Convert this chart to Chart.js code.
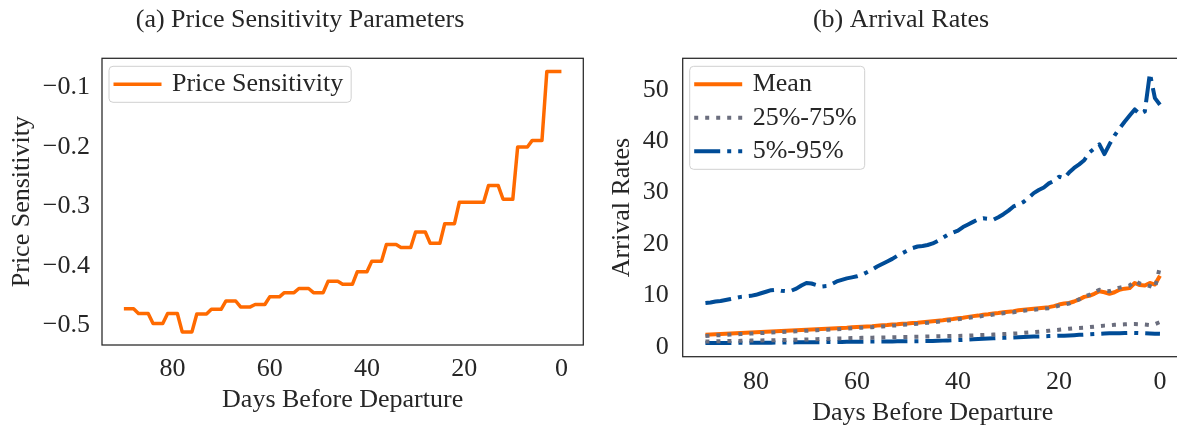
<!DOCTYPE html>
<html>
<head>
<meta charset="utf-8">
<script src="https://cdn.jsdelivr.net/npm/chart.js@4.4.0/dist/chart.umd.min.js"></script>
<style>
  html, body { margin: 0; padding: 0; background: #fff; overflow: hidden; }
  #wrap { position: relative; width: 1177px; height: 429px; overflow: hidden; }
  .panel { position: absolute; top: 0; height: 429px; width: 600px; }
  #left { left: 0; }
  #right { left: 590px; }
</style>
</head>
<body>
<div id="wrap">
  <div class="panel" id="left"><canvas id="price-chart"></canvas></div>
  <div class="panel" id="right"><canvas id="arrival-chart"></canvas></div>
</div>
<script>
// Days before departure (x)
const days = [
  90, 89, 88, 87, 86, 85, 84, 83, 82, 81,
  80, 79, 78, 77, 76, 75, 74, 73, 72, 71,
  70, 69, 68, 67, 66, 65, 64, 63, 62, 61,
  60, 59, 58, 57, 56, 55, 54, 53, 52, 51,
  50, 49, 48, 47, 46, 45, 44, 43, 42, 41,
  40, 39, 38, 37, 36, 35, 34, 33, 32, 31,
  30, 29, 28, 27, 26, 25, 24, 23, 22, 21,
  20, 19, 18, 17, 16, 15, 14, 13, 12, 11,
  10, 9, 8, 7, 6, 5, 4, 3, 2, 1, 0
];

// (a) price sensitivity, one value per day (90 -> 0)
const priceSensitivity = [
  -0.472, -0.472, -0.472, -0.480, -0.480, -0.480, -0.497, -0.497, -0.497,
  -0.480, -0.480, -0.480, -0.511, -0.511, -0.511, -0.481, -0.481, -0.481,
  -0.473, -0.473, -0.473, -0.459, -0.459, -0.459, -0.469, -0.469, -0.469,
  -0.465, -0.465, -0.465, -0.452, -0.452, -0.452, -0.445, -0.445, -0.445,
  -0.438, -0.438, -0.438, -0.445, -0.445, -0.445, -0.426, -0.426, -0.426,
  -0.431, -0.431, -0.431, -0.410, -0.410, -0.410, -0.392, -0.392, -0.392,
  -0.364, -0.364, -0.364, -0.369, -0.369, -0.369, -0.343, -0.343, -0.343,
  -0.362, -0.362, -0.362, -0.329, -0.329, -0.329,
  -0.293, -0.293, -0.293, -0.293, -0.293, -0.293,
  -0.265, -0.265, -0.265, -0.288, -0.288, -0.288,
  -0.200, -0.200, -0.200, -0.189, -0.189, -0.189,
  -0.073, -0.073, -0.073, -0.073
];

// (b) arrival rates (90 -> 0)
const meanArrival = [
  2.3, 2.35, 2.4, 2.45, 2.5, 2.55, 2.6, 2.65, 2.7, 2.75, 2.8, 2.85, 2.9, 2.95, 3.0,
  3.05, 3.1, 3.15, 3.2, 3.25, 3.3, 3.35, 3.4, 3.45, 3.5, 3.55, 3.6, 3.65, 3.7, 3.8,
  3.85, 3.9, 3.95, 4.0, 4.1, 4.15, 4.2, 4.3, 4.35, 4.45, 4.5, 4.6, 4.65, 4.75, 4.85,
  4.95, 5.05, 5.15, 5.3, 5.4, 5.55, 5.65, 5.8, 5.95, 6.05, 6.2, 6.3, 6.45, 6.55, 6.7,
  6.8, 6.9, 7.1, 7.2, 7.3, 7.4, 7.5, 7.6, 7.7, 7.9, 8.2, 8.4, 8.5, 8.8, 9.2,
  9.7, 9.9, 10.3, 10.8, 10.6, 10.3, 10.6, 11.1, 11.3, 11.4, 12.4, 12.0, 11.9, 12.4, 12.1, 13.8
];
const q75Arrival = [
  2.1, 2.15, 2.2, 2.25, 2.3, 2.35, 2.4, 2.45, 2.5, 2.55, 2.6, 2.65, 2.7, 2.75, 2.8,
  2.85, 2.9, 2.95, 3.0, 3.05, 3.1, 3.15, 3.2, 3.25, 3.3, 3.35, 3.4, 3.45, 3.5, 3.6,
  3.65, 3.7, 3.75, 3.8, 3.9, 3.95, 4.0, 4.1, 4.15, 4.25, 4.3, 4.4, 4.45, 4.55, 4.65,
  4.75, 4.85, 4.95, 5.1, 5.2, 5.35, 5.45, 5.6, 5.75, 5.85, 6.0, 6.1, 6.25, 6.35, 6.5,
  6.6, 6.7, 6.9, 7.0, 7.1, 7.2, 7.3, 7.4, 7.5, 7.7, 8.0, 8.2, 8.4, 8.8, 9.2,
  9.8, 10.1, 10.6, 11.1, 10.9, 10.8, 11.2, 11.5, 11.7, 11.9, 12.8, 12.3, 12.0, 11.8, 11.4, 15.6
];
const q25Arrival = [
  1.0, 1.02, 1.04, 1.06, 1.08, 1.1, 1.12, 1.14, 1.16, 1.18, 1.2, 1.22, 1.24, 1.26, 1.28,
  1.3, 1.32, 1.34, 1.36, 1.38, 1.4, 1.43, 1.46, 1.49, 1.52, 1.55, 1.58, 1.61, 1.64, 1.67,
  1.7, 1.72, 1.74, 1.76, 1.78, 1.8, 1.82, 1.84, 1.86, 1.88, 1.9, 1.92, 1.94, 1.96, 1.98,
  2.0, 2.02, 2.04, 2.06, 2.08, 2.1, 2.13, 2.16, 2.2, 2.24, 2.28, 2.32, 2.36, 2.4, 2.45,
  2.5, 2.55, 2.6, 2.68, 2.76, 2.84, 2.92, 3.0, 3.1, 3.2, 3.3, 3.4, 3.5, 3.6, 3.65,
  3.7, 3.8, 3.9, 4.0, 4.1, 4.15, 4.25, 4.3, 4.35, 4.4, 4.4, 4.35, 4.3, 4.2, 4.4, 4.8
];
const q95Arrival = [
  8.5, 8.6, 8.8, 8.9, 9.1, 9.3, 9.5, 9.7, 9.8, 9.9, 10.1, 10.4, 10.7, 11.0, 11.1,
  10.9, 10.8, 10.9, 11.3, 11.9, 12.4, 12.3, 12.0, 11.7, 11.8, 12.2, 12.7, 13.0, 13.3, 13.5,
  13.7, 14.0, 14.5, 15.0, 15.6, 16.1, 16.6, 17.1, 17.7, 18.2, 18.7, 19.2, 19.5, 19.6, 19.8,
  20.1, 20.6, 21.2, 21.8, 22.2, 22.6, 23.3, 23.8, 24.3, 24.8, 25.0, 24.9, 24.7, 25.2, 25.8,
  26.5, 27.3, 27.7, 28.2, 29.0, 29.9, 30.5, 31.0, 31.8, 32.3, 33.1, 32.8, 33.9, 34.8, 35.5,
  36.3, 37.8, 38.6, 39.4, 37.5, 39.4, 41.1, 42.5, 43.8, 45.0, 46.2, 45.3, 45.8, 53.2, 48.4, 47.1
];
const q5Arrival = [
  0.7, 0.7, 0.71, 0.72, 0.72, 0.73, 0.74, 0.75, 0.75, 0.76, 0.77, 0.78, 0.78, 0.79, 0.8,
  0.81, 0.82, 0.83, 0.84, 0.85, 0.86, 0.87, 0.88, 0.89, 0.9, 0.91, 0.92, 0.93, 0.94, 0.95,
  0.96, 0.97, 0.98, 0.99, 1.0, 1.01, 1.02, 1.03, 1.04, 1.05, 1.06, 1.07, 1.08, 1.09, 1.1,
  1.12, 1.15, 1.18, 1.21, 1.25, 1.29, 1.33, 1.38, 1.43, 1.48, 1.53, 1.58, 1.63, 1.68, 1.72,
  1.76, 1.8, 1.84, 1.88, 1.92, 1.96, 2.0, 2.03, 2.06, 2.09, 2.12, 2.15, 2.2, 2.25, 2.3,
  2.35, 2.4, 2.45, 2.5, 2.55, 2.6, 2.62, 2.64, 2.66, 2.7, 2.68, 2.64, 2.6, 2.55, 2.52, 2.5
];

// tick labels
const xTicks = [0, 20, 40, 60, 80];
const priceTicks = [-0.5, -0.4, -0.3, -0.2, -0.1];
const arrivalTicks = [0, 10, 20, 30, 40, 50];

const ORANGE = '#ff6a00';
const GREY = '#6b6e7e';
const BLUE = '#004c97';
const INK = '#262626';
const FONT = "'Liberation Serif', 'DejaVu Serif', serif";

const toPoints = arr => days.map((d, i) => ({ x: d, y: arr[i] }));

// frame, title and an in-axes legend
const framePlugin = {
    id: 'frame',
    afterDatasetsDraw(chart, args, opts) {
        const { ctx, chartArea: a } = chart;
        ctx.save();
        ctx.strokeStyle = INK;
        ctx.lineWidth = 1.25;
        ctx.strokeRect(a.left, a.top, a.right - a.left, a.bottom - a.top);

        ctx.fillStyle = INK;
        ctx.font = '26px ' + FONT;
        ctx.textAlign = 'center';
        ctx.textBaseline = 'middle';
        ctx.fillText(opts.title, opts.titleX, opts.titleY);

        // legend
        ctx.textAlign = 'left';
        const items = opts.legend.map(i => chart.data.datasets[i]);
        const tw = Math.max(...items.map(d => ctx.measureText(d.label).width));
        const x0 = a.left + 7, y0 = a.top + 8;
        const w = 63 + tw + 8, h = 36 + (items.length - 1) * 33.5;
        ctx.beginPath();
        ctx.roundRect(x0, y0, w, h, 4);
        ctx.fillStyle = 'rgba(255,255,255,0.85)';
        ctx.fill();
        ctx.strokeStyle = '#d0d0d0';
        ctx.lineWidth = 1;
        ctx.stroke();
        items.forEach((d, i) => {
            const cy = y0 + 18 + i * 33.5;
            ctx.beginPath();
            ctx.setLineDash(d.borderDash || []);
            ctx.lineCap = 'butt';
            ctx.strokeStyle = d.borderColor;
            ctx.lineWidth = d.borderWidth;
            ctx.moveTo(x0 + 4.5, cy);
            ctx.lineTo(x0 + 52.5, cy);
            ctx.stroke();
            ctx.setLineDash([]);
            ctx.fillStyle = INK;
            ctx.fillText(d.label, x0 + 63, cy);
        });
        ctx.restore();
    }
};

function axisX(height, tickPad, titlePad) {
    return {
        type: 'linear',
        reverse: true,
        min: -4.5,
        max: 94.5,
        grid: { display: false, drawTicks: false },
        border: { display: false },
        afterBuildTicks: axis => { axis.ticks = xTicks.map(v => ({ value: v })); },
        afterFit: axis => { axis.height = height; },
        ticks: { color: INK, font: { family: FONT, size: 26 }, padding: tickPad, maxRotation: 0, autoSkip: false },
        title: { display: true, text: 'Days Before Departure', color: INK, font: { family: FONT, size: 26 }, padding: { top: 0, bottom: titlePad } }
    };
}

function axisY(min, max, tickValues, width, tickPad, title, titlePad, fmt) {
    return {
        min: min,
        max: max,
        grid: { display: false, drawTicks: false },
        border: { display: false },
        afterBuildTicks: axis => { axis.ticks = tickValues.map(v => ({ value: v })); },
        afterFit: axis => { axis.width = width; },
        ticks: { color: INK, font: { family: FONT, size: 26 }, padding: tickPad, callback: fmt },
        title: { display: true, text: title, color: INK, font: { family: FONT, size: 26 }, padding: { top: titlePad, bottom: 0 } }
    };
}

const common = {
    responsive: true,
    maintainAspectRatio: false,
    animation: false,
    events: [],
    devicePixelRatio: 1,
    elements: { point: { radius: 0 }, line: { tension: 0, borderJoinStyle: 'round' } }
};

// (a) Price sensitivity
new Chart(document.getElementById('price-chart'), {
    type: 'line',
    data: {
        datasets: [{
            label: 'Price Sensitivity',
            data: toPoints(priceSensitivity),
            borderColor: ORANGE,
            borderWidth: 3.5
        }]
    },
    options: {
        ...common,
        layout: { padding: { top: 58.3, right: 16.7, left: 0, bottom: 0 } },
        scales: {
            x: axisX(84, 9, 13.4),
            y: axisY(-0.533, -0.051, priceTicks, 102, 12, 'Price Sensitivity', 6.4,
                v => (v < 0 ? '\u2212' : '') + Math.abs(v).toFixed(1))
        },
        plugins: {
            legend: { display: false },
            tooltip: { enabled: false },
            frame: { title: '(a) Price Sensitivity Parameters', titleX: 300, titleY: 20, legend: [0] }
        }
    },
    plugins: [framePlugin]
});

// (b) Arrival rates
new Chart(document.getElementById('arrival-chart'), {
    type: 'line',
    data: {
        datasets: [
            { label: '25%-75%', data: toPoints(q25Arrival), borderColor: GREY, borderWidth: 4, borderDash: [4, 7] },
            { label: '', data: toPoints(q75Arrival), borderColor: GREY, borderWidth: 4, borderDash: [4, 7] },
            { label: 'Mean', data: toPoints(meanArrival), borderColor: ORANGE, borderWidth: 4 },
            { label: '5%-95%', data: toPoints(q5Arrival), borderColor: BLUE, borderWidth: 4, borderDash: [26, 7, 4, 7] },
            { label: '', data: toPoints(q95Arrival), borderColor: BLUE, borderWidth: 4, borderDash: [26, 7, 4, 7] }
        ]
    },
    options: {
        ...common,
        layout: { padding: { top: 58.3, right: 7.3, left: 0, bottom: 0 } },
        scales: {
            x: axisX(72.3, 10, 0.4),
            y: axisY(-1.95, 56.15, arrivalTicks, 92.7, 14, 'Arrival Rates', 16.1, v => String(v))
        },
        plugins: {
            legend: { display: false },
            tooltip: { enabled: false },
            frame: { title: '(b) Arrival Rates', titleX: 311, titleY: 20, legend: [2, 0, 3] }
        }
    },
    plugins: [framePlugin]
});
</script>
</body>
</html>
